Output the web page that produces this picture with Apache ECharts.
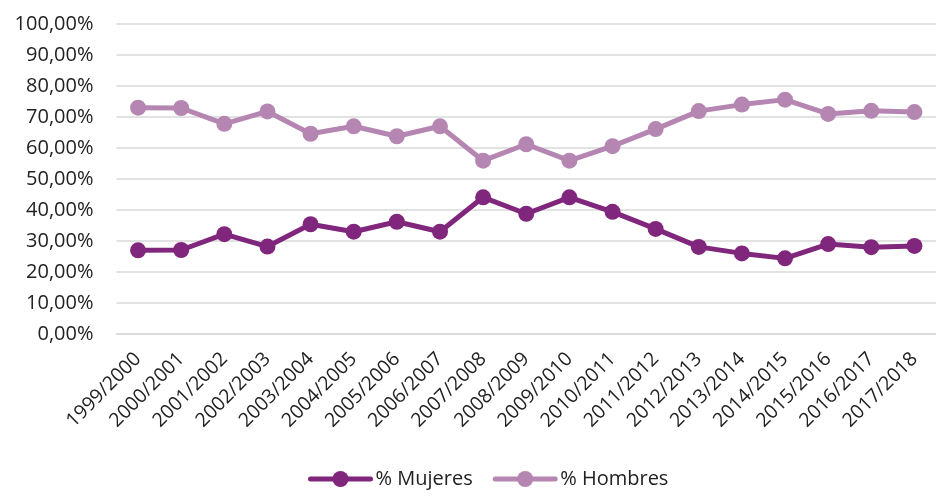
<!DOCTYPE html>
<html>
<head>
<meta charset="utf-8">
<script src="https://cdn.jsdelivr.net/npm/echarts@6/dist/echarts.min.js"></script>
<style>
html,body{margin:0;padding:0;background:#fff;}
#chart{width:936px;height:496px;}
</style>
</head>
<body>
<div id="chart"></div>
<script>
const categories = ["1999/2000","2000/2001","2001/2002","2002/2003","2003/2004","2004/2005","2005/2006","2006/2007","2007/2008","2008/2009","2009/2010","2010/2011","2011/2012","2012/2013","2013/2014","2014/2015","2015/2016","2016/2017","2017/2018"];
const mujeres = [27.0, 27.1, 32.2, 28.2, 35.4, 33.0, 36.2, 33.0, 44.1, 38.8, 44.1, 39.4, 33.9, 28.1, 26.0, 24.4, 29.0, 28.0, 28.4];
const hombres = [73.0, 72.9, 67.8, 71.8, 64.6, 67.0, 63.8, 67.0, 55.9, 61.2, 55.9, 60.6, 66.1, 71.9, 74.0, 75.6, 71.0, 72.0, 71.6];
const yTicks = [0, 10, 20, 30, 40, 50, 60, 70, 80, 90, 100];
const seriesNames = ["% Mujeres", "% Hombres"];
const colors = ["#80267C", "#B586B1"];

const chart = echarts.init(document.getElementById('chart'));
const fontFamily = "'Open Sans', 'Liberation Sans', sans-serif";
function fmt(v){ return v.toFixed(2).replace('.', ',') + '%'; }
chart.setOption({
  animation: false,
  textStyle: { fontFamily: fontFamily },
  grid: { left: 116.5, top: 24, width: 830, height: 310, containLabel: false },
  legend: {
    bottom: 2,
    left: 303,
    itemWidth: 60,
    itemHeight: 20,
    itemGap: 20,
    lineStyle: { width: 5, cap: 'round' },
    textStyle: { fontSize: 20, color: '#222', fontFamily: fontFamily },
    data: seriesNames
  },
  xAxis: {
    type: 'category',
    data: categories,
    boundaryGap: true,
    axisLine: { show: true, lineStyle: { color: '#D9D9D9', width: 1.5 } },
    axisTick: { show: false },
    axisLabel: { rotate: 45, fontSize: 19.5, color: '#222', margin: 22, interval: 0, fontFamily: fontFamily }
  },
  yAxis: {
    type: 'value',
    min: yTicks[0],
    max: yTicks[yTicks.length - 1],
    interval: 10,
    axisLine: { show: false },
    axisTick: { show: false },
    splitLine: { lineStyle: { color: '#D9D9D9', width: 1.5 } },
    axisLabel: { fontSize: 20, color: '#222', margin: 23, formatter: fmt, fontFamily: fontFamily }
  },
  series: [
    { name: seriesNames[0], type: 'line', data: mujeres, color: colors[0],
      symbol: 'circle', symbolSize: 16, lineStyle: { width: 5 } },
    { name: seriesNames[1], type: 'line', data: hombres, color: colors[1],
      symbol: 'circle', symbolSize: 16, lineStyle: { width: 5 } }
  ]
});
</script>
</body>
</html>
